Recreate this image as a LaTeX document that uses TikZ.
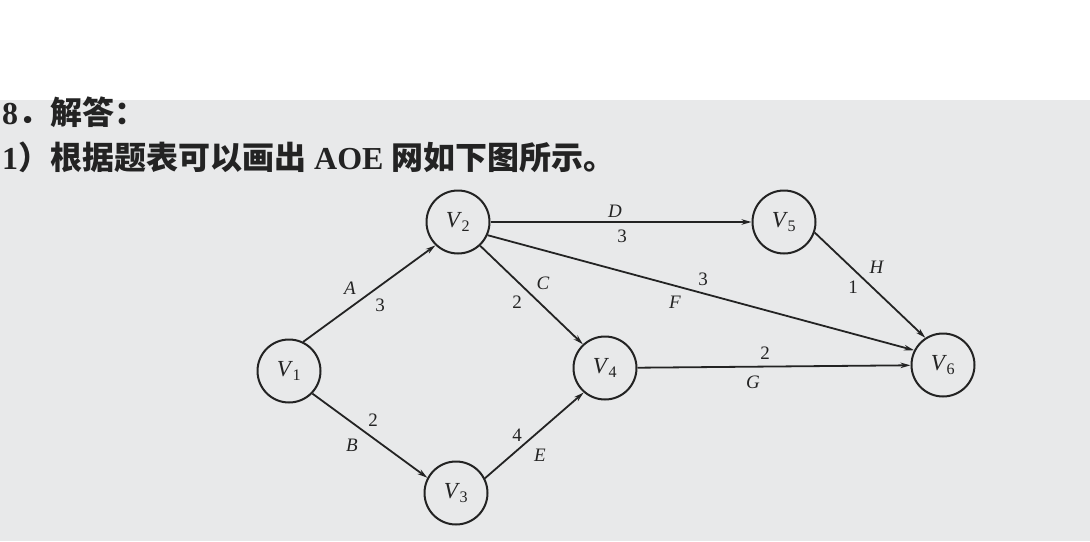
\documentclass[tikz,border=0pt]{standalone}
\usepackage{fontspec}
\setmainfont{Liberation Serif}
\newfontfamily\cjk{Noto Sans CJK SC}
\usetikzlibrary{arrows.meta}
\definecolor{ink}{RGB}{35,35,35}
\definecolor{paper}{RGB}{232,233,234}
\newcommand{\vname}[1]{\textit{V}\kern-0.5pt\textsubscript{#1}}

\begin{document}
\begin{tikzpicture}[x=1pt,y=-1pt,
  vtx/.style={circle,draw=ink,line width=2pt,minimum size=63pt,inner sep=0pt,
    text=ink,font=\fontsize{23}{25}\selectfont},
  act/.style={draw=ink,line width=1.8pt,-{Stealth[length=10pt,width=5.5pt]}},
  wt/.style={inner sep=0pt,text=ink,font=\fontsize{19}{21}\selectfont},
  head/.style={anchor=base west,inner sep=0pt,text=ink,font=\fontsize{32}{34}\selectfont\bfseries}]
\useasboundingbox (0,0) rectangle (1090,541);
\fill[paper] (0,100) rectangle (1090,541);

\node[head] at (2,124) (h1) {8{\cjk ．解答：}};
\node[head] at (2,169) (h2) {1{\cjk ）根据题表可以画出} AOE {\cjk 网如下图所示。}};

\node[vtx] at (289,371) (v1) {\vname{1}};
\node[vtx] at (458,222) (v2) {\vname{2}};
\node[vtx] at (456,493) (v3) {\vname{3}};
\node[vtx] at (605,368) (v4) {\vname{4}};
\node[vtx] at (784,222) (v5) {\vname{5}};
\node[vtx] at (943,365) (v6) {\vname{6}};

\node[wt] at (350,288) (la) {\textit{A}};
\node[wt] at (380,305) (wa) {3};
\node[wt] at (352,445) (lb) {\textit{B}};
\node[wt] at (373,420) (wb) {2};
\node[wt] at (543,283) (lc) {\textit{C}};
\node[wt] at (517,302) (wc) {2};
\node[wt] at (615,211) (ld) {\textit{D}};
\node[wt] at (622,236) (wd) {3};
\node[wt] at (540,455) (le) {\textit{E}};
\node[wt] at (517,435) (we) {4};
\node[wt] at (675,302) (lf) {\textit{F}};
\node[wt] at (703,279) (wf) {3};
\node[wt] at (753,382) (lg) {\textit{G}};
\node[wt] at (765,353) (wg) {2};
\node[wt] at (877,267) (lh) {\textit{H}};
\node[wt] at (853,287) (wh) {1};

\draw[act] (v1.64)  -- (v2.226);
\draw[act] (v1.-44) -- (v3.152);
\draw[act] (v2.-47) -- (v4.133);
\draw[act] (v3.27)  -- (v4.229);
\draw[act] (v2)     -- (v5);
\draw[act] (v2.-24) -- (v6.153);
\draw[act] (v4)     -- (v6);
\draw[act] (v5.-19) -- (v6.123);

\end{tikzpicture}
\end{document}
